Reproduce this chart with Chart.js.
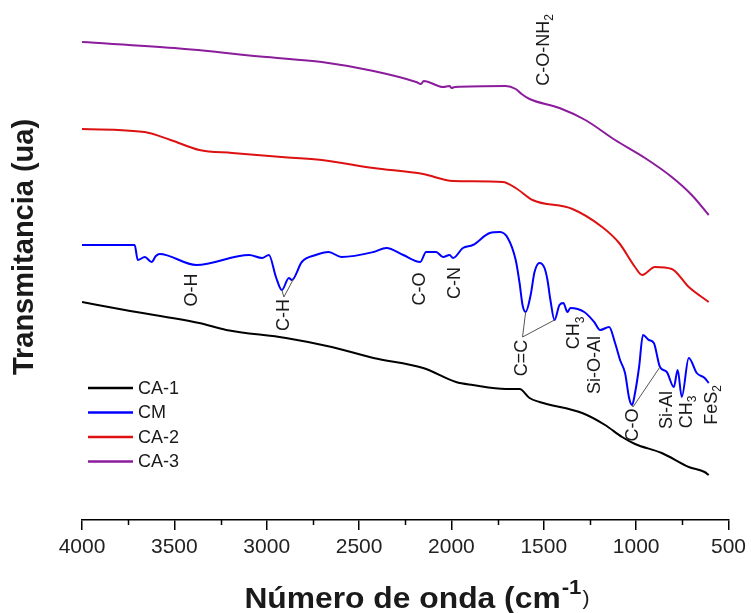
<!DOCTYPE html>
<html>
<head>
<meta charset="utf-8">
<script src="https://cdn.jsdelivr.net/npm/chart.js@4"></script>
<style>
html,body{margin:0;padding:0;background:#fff;}
#wrap{width:751px;height:613px;position:relative;}
</style>
</head>
<body>
<div id="wrap"><canvas id="c" width="751" height="613"></canvas></div>
<script>
// ---- Data (wavenumber cm-1, transmittance a.u.) ----
const ca1_wn = [4000,3768,3365,3219,2896,2648,2422,2153,1975,1884,1706,1631,1577,1523,1292,1168,1076,1006,861,715,629,607];
const ca1_t  = [43.6,42.0,39.4,38.0,36.4,34.6,32.4,30.4,27.6,27.0,26.2,26.2,24.4,23.6,21.4,19.0,16.6,15.2,13.4,10.6,9.6,9.0];

const cm_wn = [4000,3715,3698,3660,3623,3600,3580,3381,3095,3025,2988,2950,2918,2880,2864,2810,2735,2665,2595,2422,2352,2261,2169,2137,2083,2045,2010,1991,1938,1884,1792,1738,1695,1652,1631,1615,1598,1571,1550,1523,1496,1480,1464,1442,1415,1394,1372,1356,1281,1227,1195,1146,1114,1087,1060,1038,1022,1006,984,963,931,904,871,834,796,775,753,715,672,629,607];
const cm_t  = [55.0,55.0,52.0,52.6,51.6,52.8,53.2,51.0,53.0,52.4,53.0,48.6,46.0,48.4,48.0,51.6,53.0,53.6,52.6,53.6,54.4,53.0,51.6,53.6,53.6,52.6,53.0,52.4,54.4,55.0,57.4,57.6,56.4,52.0,47.4,43.0,41.6,45.0,49.6,51.4,50.4,48.0,44.0,40.0,43.0,43.4,41.6,42.4,41.6,39.6,38.0,38.6,35.4,32.0,29.4,24.4,23.0,25.4,30.6,37.0,36.0,35.4,30.6,29.6,26.6,30.0,24.6,32.4,29.4,28.4,27.4];

const ca2_wn = [4000,3661,3520,3365,3187,2918,2702,2422,2153,1991,1722,1652,1561,1345,1184,1092,1006,968,898,807,715,607];
const ca2_t  = [78.2,77.6,76.0,74.0,73.4,72.6,72.0,70.4,69.2,67.8,67.6,66.4,64.0,62.2,58.6,55.4,50.6,49.0,50.6,50.2,46.6,43.6];

const ca3_wn = [4000,3500,3000,2702,2422,2191,2165,2150,2045,2010,2000,1981,1706,1652,1620,1577,1415,1275,1114,952,807,699,607];
const ca3_t  = [95.6,94.4,92.6,91.6,89.8,87.6,87.2,87.8,86.6,86.8,86.4,86.6,86.8,86.2,85.2,84.2,82.4,80.0,76.0,72.4,68.6,65.0,61.0];

const seriesNames = ['CA-1','CM','CA-2','CA-3'];
const xTicks = [4000,3500,3000,2500,2000,1500,1000,500];
const xMinorTicks = [3750,3250,2750,2250,1750,1250,750];

// Band annotations: label, subscript, wavenumber, transmittance (text centre)
const annText = ['O-H','C-H','C-O','C-N','C-O-NH','C=C','CH','Si-O-Al','C-O','Si-Al','CH','FeS'];
const annSub  = ['','','','','2','','3','','','','3','2'];
const annWn   = [3402,2907,2169,1981,1500,1615,1334,1221,1017,834,726,591];
const annT    = [46.0,41.0,46.2,47.4,94.0,32.4,37.4,31.0,19.0,22.0,21.6,23.0];
// Leader lines: from (wn,t) to (wn,t)
const leadFromWn = [2907,2907,1615,1615,1017,1017];
const leadFromT  = [44.6,44.6,36.6,36.6,22.6,22.6];
const leadToWn   = [2918,2855,1598,1442,1022,871];
const leadToT    = [46.0,48.2,41.6,40.0,23.0,30.6];

const colors = ['#000000','#0000ff','#dd1111','#8b1c9c'];

function pts(wn,t){ return wn.map((w,i)=>({x:w,y:t[i]})); }

const FONT = '"Liberation Sans", Arial, sans-serif';

const annPlugin = {
  id:'ann',
  afterDatasetsDraw(chart){
    const ctx = chart.ctx, xs = chart.scales.x, ys = chart.scales.y;
    ctx.save();
    ctx.strokeStyle = '#555'; ctx.lineWidth = 1;
    for(let i=0;i<leadFromWn.length;i++){
      ctx.beginPath();
      ctx.moveTo(xs.getPixelForValue(leadFromWn[i]), ys.getPixelForValue(leadFromT[i]));
      ctx.lineTo(xs.getPixelForValue(leadToWn[i]), ys.getPixelForValue(leadToT[i]));
      ctx.stroke();
    }
    ctx.fillStyle = '#1a1a1a';
    for(let i=0;i<annText.length;i++){
      const px = xs.getPixelForValue(annWn[i]), py = ys.getPixelForValue(annT[i]);
      ctx.save();
      ctx.translate(px,py); ctx.rotate(-Math.PI/2);
      ctx.font = '18px '+FONT;
      const w1 = ctx.measureText(annText[i]).width;
      ctx.font = '12px '+FONT;
      const w2 = annSub[i] ? ctx.measureText(annSub[i]).width : 0;
      const start = -(w1+w2)/2;
      ctx.textBaseline = 'middle'; ctx.textAlign = 'left';
      ctx.font = '18px '+FONT;
      ctx.fillText(annText[i], start, 0);
      if(annSub[i]){
        ctx.font = '12px '+FONT;
        ctx.fillText(annSub[i], start+w1, 6);
      }
      ctx.restore();
    }
    ctx.restore();
  },
  afterDraw(chart){
    const ctx = chart.ctx, xs = chart.scales.x, ca = chart.chartArea;
    ctx.save();
    ctx.strokeStyle = '#000'; ctx.lineWidth = 1.5;
    xMinorTicks.forEach(v=>{
      const px = Math.round(xs.getPixelForValue(v))+0.5;
      ctx.beginPath(); ctx.moveTo(px, ca.bottom); ctx.lineTo(px, ca.bottom+5); ctx.stroke();
    });
    chart.data.datasets.forEach((ds,i)=>{
      const y = ca.top + 368 + i*24.5;
      ctx.strokeStyle = ds.borderColor; ctx.lineWidth = 2.5;
      ctx.beginPath(); ctx.moveTo(ca.left+6, y); ctx.lineTo(ca.left+51, y); ctx.stroke();
      ctx.fillStyle = '#1a1a1a'; ctx.font = '18px '+FONT;
      ctx.textBaseline = 'middle'; ctx.textAlign = 'left';
      ctx.fillText(ds.label, ca.left+56, y+1);
    });
    // y title
    ctx.save();
    ctx.translate(25, 247); ctx.rotate(-Math.PI/2);
    ctx.font = 'bold 29px '+FONT; ctx.fillStyle = '#1a1a1a';
    ctx.textAlign = 'center'; ctx.textBaseline = 'middle';
    ctx.fillText('Transmitancia (ua)', 0, 0);
    ctx.restore();
    // x title with superscript
    ctx.save();
    ctx.translate(417, 608); ctx.scale(1.06, 1);
    const p1 = 'Número de onda (cm', p2 = '-1', p3 = ')';
    ctx.font = 'bold 30px '+FONT; const w1 = ctx.measureText(p1).width;
    ctx.font = 'bold 21px '+FONT; const w2 = ctx.measureText(p2).width;
    ctx.font = '20px '+FONT; const w3 = ctx.measureText(p3).width;
    let x0 = -(w1+w2+w3+2)/2;
    ctx.textBaseline = 'alphabetic'; ctx.textAlign = 'left'; ctx.fillStyle = '#1a1a1a';
    ctx.font = 'bold 30px '+FONT; ctx.fillText(p1, x0, 0);
    ctx.font = 'bold 21px '+FONT; ctx.fillText(p2, x0+w1+1, -14);
    ctx.font = '20px '+FONT; ctx.fillText(p3, x0+w1+w2+2, -3);
    ctx.restore();
    ctx.restore();
  }
};

new Chart(document.getElementById('c'), {
  type:'line',
  data:{
    datasets:[
      {label:seriesNames[0], data:pts(ca1_wn,ca1_t), borderColor:colors[0]},
      {label:seriesNames[1], data:pts(cm_wn,cm_t), borderColor:colors[1]},
      {label:seriesNames[2], data:pts(ca2_wn,ca2_t), borderColor:colors[2]},
      {label:seriesNames[3], data:pts(ca3_wn,ca3_t), borderColor:colors[3]}
    ].map(d=>Object.assign(d,{borderWidth:2, pointRadius:0, fill:false, cubicInterpolationMode:'monotone'}))
  },
  options:{
    responsive:false, animation:false,
    layout:{padding:{left:82, right:19, top:20, bottom:0}},
    plugins:{legend:{display:false}, tooltip:{enabled:false}},
    scales:{
      x:{
        type:'linear', reverse:true, min:500, max:4000,
        afterBuildTicks(s){ s.ticks = xTicks.map(v=>({value:v})); },
        afterFit(s){ s.height = 93; },
        border:{display:true, color:'#000', width:1.5},
        grid:{drawOnChartArea:false, drawTicks:true, tickLength:10, color:'#000', lineWidth:1.5},
        ticks:{font:{family:FONT, size:21}, color:'#222', padding:5, maxRotation:0, autoSkip:false,
               callback:(v)=>String(v)}
      },
      y:{ type:'linear', min:0, max:100, display:false }
    }
  },
  plugins:[annPlugin]
});
</script>
</body>
</html>
